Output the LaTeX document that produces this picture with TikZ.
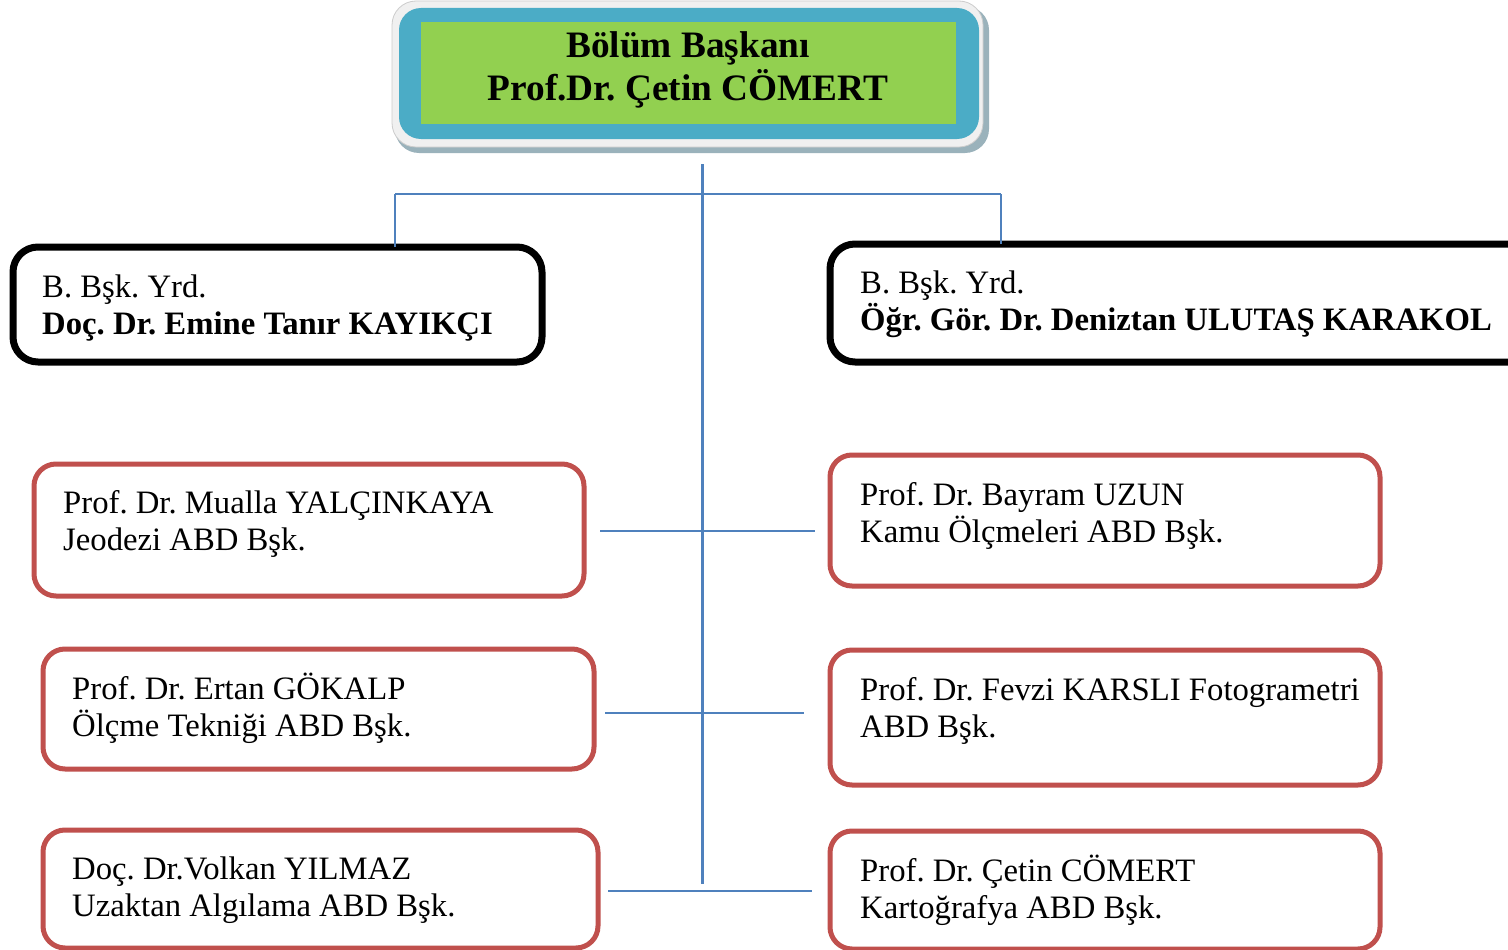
\documentclass[tikz,border=0pt]{standalone}
\usepackage{fontspec}
\setmainfont{Liberation Serif}
\frenchspacing
\definecolor{boxred}{HTML}{C0504D}
\definecolor{headblue}{HTML}{4BACC6}
\definecolor{headgreen}{HTML}{92D050}
\definecolor{connblue}{HTML}{4F81BD}
\definecolor{shadowgrey}{HTML}{9AB2BB}
\definecolor{panelgrey}{HTML}{F0F0F0}
\tikzset{
  redbox/.style={draw=boxred, line width=5pt, rounded corners=22pt, fill=white, inner sep=0pt, outer sep=0pt, anchor=north west},
  blackbox/.style={draw=black, line width=7pt, rounded corners=25pt, fill=white, inner sep=0pt, outer sep=0pt, anchor=north west},
  txt/.style={inner sep=0pt, anchor=base west},
  conn/.style={draw=connblue, line width=2pt},
  trunk/.style={draw=connblue, line width=3pt}
}
\newcommand{\twolines}[2]{\parbox[t]{660pt}{\fontsize{32.7}{37}\selectfont #1\\#2}}
\begin{document}
\begin{tikzpicture}[x=1pt,y=-1pt]
\clip (0,0) rectangle (1508,950);
\fill[white] (0,0) rectangle (1508,950);
% head box
\fill[shadowgrey, rounded corners=24pt] (395,6) rectangle (989,153);
\node[draw=gray!40, line width=0.8pt, fill=panelgrey, rounded corners=24pt, inner sep=0pt, outer sep=0pt, anchor=north west,
      minimum width=591pt, minimum height=146pt] (headout) at (392,1) {};
\node[fill=headblue, rounded corners=22pt, inner sep=0pt, outer sep=0pt, anchor=north west,
      minimum width=580pt, minimum height=131pt] (headblue) at (399,8) {};
\node[fill=headgreen, inner sep=0pt, outer sep=0pt, anchor=north west,
      minimum width=535pt, minimum height=102pt] (headgreen) at (421,22) {};
\node[inner sep=0pt, anchor=base] (headtxt) at (688,58)
  {\parbox[t]{560pt}{\centering\bfseries\fontsize{37.3}{43}\selectfont Bölüm Başkanı\\Prof.Dr. Çetin CÖMERT}};

% connectors
\coordinate (trunktop) at (702,164);
\coordinate (trunkbot) at (702,884);
\coordinate (hl) at (395,194);
\coordinate (hr) at (1001,194);
\coordinate (a1) at (600,531); \coordinate (b1) at (815,531);
\coordinate (a2) at (605,713); \coordinate (b2) at (804,713);
\coordinate (a3) at (608,891); \coordinate (b3) at (812,891);

% deputy boxes
\node[blackbox, minimum width=529pt, minimum height=115pt] (yrdL) at (13,247) {};
\node[blackbox, minimum width=720pt, minimum height=118pt] (yrdR) at (830,244) {};
\node[txt] (yrdLt) at (42,297) {\twolines{B. Bşk. Yrd.}{\bfseries Doç. Dr. Emine Tanır KAYIKÇI}};
\node[txt] (yrdRt) at (860,293) {\twolines{B. Bşk. Yrd.}{\bfseries Öğr. Gör. Dr. Deniztan ULUTAŞ KARAKOL}};

% department boxes
\node[redbox, minimum width=550pt, minimum height=132pt] (L1) at (34,464) {};
\node[redbox, minimum width=551pt, minimum height=120pt] (L2) at (43,649) {};
\node[redbox, minimum width=555pt, minimum height=118pt] (L3) at (43,830) {};
\node[redbox, minimum width=550pt, minimum height=131pt] (R1) at (830,455) {};
\node[redbox, minimum width=550pt, minimum height=135pt] (R2) at (830,650) {};
\node[redbox, minimum width=550pt, minimum height=118pt] (R3) at (830,831) {};

\node[txt] (L1t) at (63,513) {\twolines{Prof. Dr. Mualla YALÇINKAYA}{Jeodezi ABD Bşk.}};
\node[txt] (L2t) at (72,699) {\twolines{Prof. Dr. Ertan GÖKALP}{Ölçme Tekniği ABD Bşk.}};
\node[txt] (L3t) at (72,879) {\twolines{Doç. Dr.Volkan YILMAZ}{Uzaktan Algılama ABD Bşk.}};
\node[txt] (R1t) at (860,505) {\twolines{Prof. Dr. Bayram UZUN}{Kamu Ölçmeleri ABD Bşk.}};
\node[txt] (R2t) at (860,700) {\twolines{Prof. Dr. Fevzi KARSLI Fotogrametri}{ABD Bşk.}};
\node[txt] (R3t) at (860,881) {\twolines{Prof. Dr. Çetin CÖMERT}{Kartoğrafya ABD Bşk.}};

% lines
\draw[trunk] (trunktop) -- (trunkbot);
\draw[conn] (hl) -- (hr);
\draw[conn] (hl) -- (hl |- yrdL.north);
\draw[conn] (hr) -- (hr |- yrdR.north);
\draw[conn] (a1) -- (b1);
\draw[conn] (a2) -- (b2);
\draw[conn] (a3) -- (b3);
\end{tikzpicture}
\end{document}
